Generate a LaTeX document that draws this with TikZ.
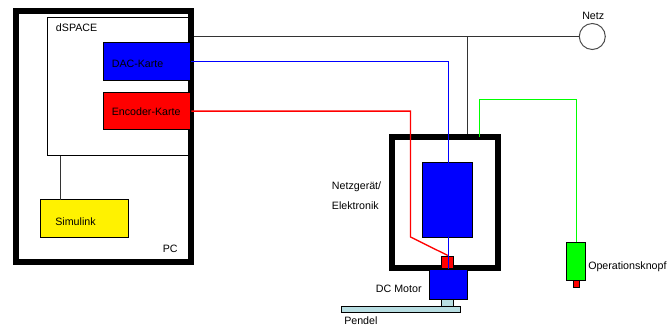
\documentclass[tikz,border=0pt]{standalone}
\usepackage{fontspec}
\setmainfont{Liberation Sans}
\usepackage{tikz}
\definecolor{pendelblue}{RGB}{184,222,226}
\tikzstyle{block}=[draw,inner sep=0pt,line width=0.75pt]
\tikzstyle{thickbox}=[draw,inner sep=0pt,line width=4.7pt]
\tikzstyle{card}=[block,minimum width=65.25pt,minimum height=28.2pt,align=left,inner xsep=6pt,text width=53.25pt,text height=8.8pt,text depth=0pt]
\tikzstyle{caption}=[inner sep=0pt,anchor=west,font=\fontsize{8}{10}\selectfont]
\tikzstyle{wire}=[line width=0.75pt]
\tikzstyle{signal}=[line width=1pt]
\begin{document}
\begin{tikzpicture}[x=0.75pt,y=-0.75pt]
\useasboundingbox (0,0) rectangle (669,329);
\node [block,minimum width=107.5pt,minimum height=103.5pt] (dspace) at (119.3,86.3) {};
\node [thickbox,minimum width=131.25pt,minimum height=188.25pt] (pc) at (103.5,136.5) {};
\node [card,fill=blue] (dac) at (147.3,61.5) {\fontsize{8}{10}\selectfont DAC-Karte};
\node [card,fill=red,text height=6.5pt] (encoder) at (147.3,111.1) {\fontsize{8}{10}\selectfont Encoder-Karte};
\node [card,fill=yellow,minimum width=65.7pt,inner xsep=11pt,text width=43.7pt,text height=10.2pt] (simulink) at (84.5,218.5) {\fontsize{8}{10}\selectfont Simulink};
\node [caption] (dspacetext) at (55.7,28) {dSPACE};
\node [caption] (pctext) at (162.5,248.7) {PC};
\node [block,circle,draw=black!70,fill=white,minimum size=19.5pt] (netz) at (592.3,36.5) {};
\node [caption] (netztext) at (582,16) {Netz};
\node [thickbox,minimum width=79.5pt,minimum height=98.25pt] (netzteil) at (445,202.5) {};
\node [block,fill=blue,minimum width=37.3pt,minimum height=56.25pt] (elektronik) at (447.85,199.8) {};
\node [block,fill=red,minimum width=9.2pt,minimum height=9pt] (encoderdisk) at (447.85,262) {};
\node [block,fill=blue,minimum width=28pt,minimum height=22.7pt] (motor) at (448.35,284.2) {};
\node [block,fill=pendelblue,minimum width=9.2pt,minimum height=5.25pt] (welle) at (447.85,302.5) {};
\node [block,fill=pendelblue,minimum width=89.25pt,minimum height=5pt] (pendel) at (400.8,309.4) {};
\node [block,fill=green,minimum width=14.25pt,minimum height=28.2pt] (knopf) at (576.2,261.5) {};
\node [block,fill=red,minimum width=4.8pt,minimum height=5.25pt] (knopfrot) at (576.5,283.5) {};
\node [caption,align=left] (netzteiltext) at (331.7,195.7) {Netzger\"at/\\[5pt]Elektronik};
\node [caption] (motortext) at (375.7,289) {DC Motor};
\node [caption] (pendeltext) at (344,321) {Pendel};
\node [caption] (knopftext) at (588,267) {Operationsknopf};
\coordinate (simtap) at (60.5,199.7);
\coordinate (nettap) at (467.5,36.5);
\coordinate (redbend) at (410.5,237);
\coordinate (greentap) at (479.2,137);
\coordinate (greenup) at (479.2,99.2);
\draw [black!80,wire] (simtap) -- (simtap |- dspace.south);
\draw [black!80,wire] (netz.west) -- (netz.west -| pc.east);
\draw [black!80,wire] (nettap) -- (nettap |- netzteil.north);
\draw [blue,signal] (dac.east) -| (motor.north);
\draw [red,signal] (encoder.east) -| (redbend) -- (encoderdisk.north);
\draw [green,signal] (greentap) -- (greenup) -| (knopf.north);
\end{tikzpicture}
\end{document}
